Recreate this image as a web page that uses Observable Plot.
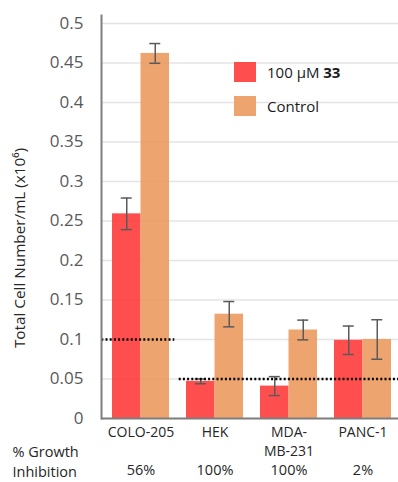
<!DOCTYPE html>
<html><head><meta charset="utf-8">
<script src="https://cdn.jsdelivr.net/npm/d3@7"></script>
<script src="https://cdn.jsdelivr.net/npm/@observablehq/plot@0.6"></script>
<style>
body{margin:0;background:#fff;}
#wrap{position:relative;width:398px;height:482px;font-family:"Open Sans",sans-serif;}
.legend{position:absolute;left:234px;top:62px;font-size:15px;color:#1a1a1a;line-height:20px;}
.legend .row{display:flex;align-items:center;height:20px;margin-bottom:14px;}
.legend .sw{width:22px;height:20px;margin-right:11px;}
</style></head><body><div id="wrap"></div>
<script>
const cellLines = ["COLO-205", "HEK", "MDA-MB-231", "PANC-1"];
const treated = [0.259, 0.047, 0.041, 0.099];
const treatedErr = [0.02, 0.003, 0.012, 0.018];
const control = [0.462, 0.132, 0.112, 0.1];
const controlErr = [0.0125, 0.016, 0.0125, 0.025];
const inhibition = ["56%", "100%", "100%", "2%"];
const yTicks = [0, 0.05, 0.1, 0.15, 0.2, 0.25, 0.3, 0.35, 0.4, 0.45, 0.5];
const seedLevels = [0.1, 0.05];
const seedFrom = ["COLO-205", "HEK"];
const seedTo = ["COLO-205", "PANC-1"];
const seriesNames = ["100 µM ", "Control"];
const colors = ["#ff3b3b", "#ec9a5e"];

const rows = cellLines.map((c, i) => ({cell: c, t: treated[i], te: treatedErr[i], c: control[i], ce: controlErr[i], inh: inhibition[i]}));
const seeds = seedLevels.map((v, i) => ({v, from: seedFrom[i], to: seedTo[i]}));
const half = 28.5;
const errStyle = {stroke: "#5a5a5a", strokeWidth: 1.5};
const dotStyle = {stroke: "#000", strokeWidth: 2.4, strokeDasharray: "2,2.2"};

const plot = Plot.plot({
  width: 398, height: 482,
  marginLeft: 101, marginRight: 0, marginTop: 15, marginBottom: 64,
  style: {fontFamily: "Open Sans, sans-serif", background: "white", overflow: "visible"},
  x: {domain: cellLines, paddingInner: 0.23, paddingOuter: 0.1216, align: 0.594, axis: null},
  y: {domain: [0, 0.51], axis: null},
  marks: [
    Plot.gridY(yTicks, {stroke: "#e4e4e4", strokeOpacity: 1, strokeWidth: 1.5}),
    Plot.barY(rows, {x: "cell", y: "t", fill: colors[0], fillOpacity: 0.9, insetRight: half}),
    Plot.barY(rows, {x: "cell", y: "c", fill: colors[1], fillOpacity: 0.9, insetLeft: half}),
    Plot.ruleX(rows, {x: "cell", y1: d => d.t - d.te, y2: d => d.t + d.te, dx: -half / 2, ...errStyle}),
    Plot.ruleX(rows, {x: "cell", y1: d => d.c - d.ce, y2: d => d.c + d.ce, dx: half / 2, ...errStyle}),
    Plot.tickY(rows, {x: "cell", y: d => d.t - d.te, insetLeft: 8.75, insetRight: 37.25, ...errStyle}),
    Plot.tickY(rows, {x: "cell", y: d => d.t + d.te, insetLeft: 8.75, insetRight: 37.25, ...errStyle}),
    Plot.tickY(rows, {x: "cell", y: d => d.c - d.ce, insetLeft: 37.25, insetRight: 8.75, ...errStyle}),
    Plot.tickY(rows, {x: "cell", y: d => d.c + d.ce, insetLeft: 37.25, insetRight: 8.75, ...errStyle}),
    Plot.ruleY([seeds[0]], {y: "v", x1: "from", x2: "to", insetLeft: -10.7, insetRight: -5.3, ...dotStyle}),
    Plot.ruleY([seeds[1]], {y: "v", x1: "from", x2: "to", insetLeft: -7.3, insetRight: -7.3, ...dotStyle}),
    Plot.ruleY([0], {stroke: "#7f7f7f", strokeWidth: 2}),
    Plot.frame({anchor: "left", stroke: "#7f7f7f", strokeWidth: 2}),
    Plot.axisY(yTicks, {tickSize: 0, tickPadding: 18, fontSize: 17, fill: "#595959", label: null, tickFormat: d => String(+d.toFixed(2))}),
    Plot.axisX({tickSize: 0, tickPadding: 5, fontSize: 14, fill: "#262626", label: null, lineHeight: 1.37,
      tickFormat: d => d === "MDA-MB-231" ? "MDA-\nMB-231" : d}),
    Plot.text(rows, {x: "cell", text: "inh", frameAnchor: "bottom", lineAnchor: "middle", dy: 52, fontSize: 14.5, fill: "#262626"}),
    Plot.text(["% Growth\nInhibition"], {text: d => d, frameAnchor: "bottom-left", lineAnchor: "middle", dx: -89, dy: 42.5, textAnchor: "start", lineHeight: 1.37, fontSize: 14.5, fill: "#262626"}),
    Plot.text(["Total Cell Number/mL (x10⁶)"], {text: d => d, frameAnchor: "left", textAnchor: "middle", rotate: -90, dx: -81, dy: 31, fontSize: 15.3, fill: "#262626"})
  ]
});

const wrap = document.getElementById("wrap");
wrap.appendChild(plot);
const legend = document.createElement("div");
legend.className = "legend";
legend.innerHTML = `<div class="row"><div class="sw" style="background:${colors[0]};opacity:0.9"></div><span>${seriesNames[0]}<b>33</b></span></div>` +
  `<div class="row"><div class="sw" style="background:${colors[1]};opacity:0.9"></div><span>${seriesNames[1]}</span></div>`;
wrap.appendChild(legend);
</script></body></html>
